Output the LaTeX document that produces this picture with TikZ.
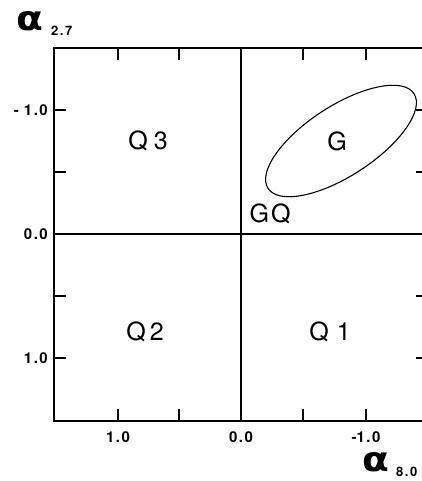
\documentclass[tikz,border=0pt]{standalone}
\usepackage{fontspec}
\setmainfont{TeX Gyre Heros}
\newfontfamily\alphafont{DejaVu Sans}
\newcommand{\tl}[2]{#1\kern1.5pt.\kern1.5pt#2}
\begin{document}
\begin{tikzpicture}[x=1pt,y=-1pt,
  frame/.style={line width=1.3pt},
  tickline/.style={line width=1.2pt},
  ticklab/.style={font=\fontsize{15}{15}\selectfont\bfseries, inner sep=0pt},
  quad/.style={font=\fontsize{25}{25}\selectfont, inner sep=0pt},
  axsym/.style={font=\fontsize{34}{34}\alphafont\bfseries, inner sep=0pt, anchor=base west},
  axsub/.style={font=\fontsize{13}{13}\selectfont\bfseries, inner sep=0pt, anchor=base west}]
\useasboundingbox (0,0) rectangle (422,481);
\clip (0,0) rectangle (422,481);
% frame
\draw[frame] (54,48) rectangle (428,421);
% centre axes
\draw[frame] (241,48) -- (241,421);
\draw[frame] (54,234) -- (428,234);
% ticks
\foreach \t in {118,179,303,366}{
  \draw[tickline] (\t,48) -- (\t,60);
  \draw[tickline] (\t,421) -- (\t,409);
}
\foreach \t in {110,172,296,358}{
  \draw[tickline] (54,\t) -- (66,\t);
  \draw[tickline] (428,\t) -- (416,\t);
}
% left tick labels
\node[ticklab, anchor=east] (ly1) at (48,110) {-\kern5pt\tl{1}{0}};
\node[ticklab, anchor=east] (ly0) at (48,234) {\tl{0}{0}};
\node[ticklab, anchor=east] (ly2) at (48,358) {\tl{1}{0}};
% bottom tick labels
\node[ticklab, anchor=north] (bx1) at (118,431) {\tl{1}{0}};
\node[ticklab, anchor=north] (bx0) at (241,431) {\tl{0}{0}};
\node[ticklab, anchor=north] (bx2) at (366,431) {-\tl{1}{0}};
% axis titles
\node[axsym] (a27) at (16,31) {\scalebox{1.15}[1]{α}};
\node[axsym] (a80) at (362,471) {\scalebox{1.15}[1]{α}};
\node[axsub] (s27) at (51,36) {\tl{2}{7}};
\node[axsub] (s80) at (396,476) {\tl{8}{0}};
% ellipse
\draw[line width=1.1pt, rotate around={33:(341,141)}] (341,141) ellipse [x radius=87, y radius=35];
% quadrant labels
\node[quad] (q3) at (148,141) {Q\hspace{6pt}3};
\node[quad] (g) at (337,141) {G};
\node[quad] (gq) at (270,214) {G\hspace{2pt}Q};
\node[quad] (q2) at (145,332) {Q\hspace{4pt}2};
\node[quad] (q1) at (330,332) {Q\hspace{8pt}1};
\end{tikzpicture}
\end{document}
